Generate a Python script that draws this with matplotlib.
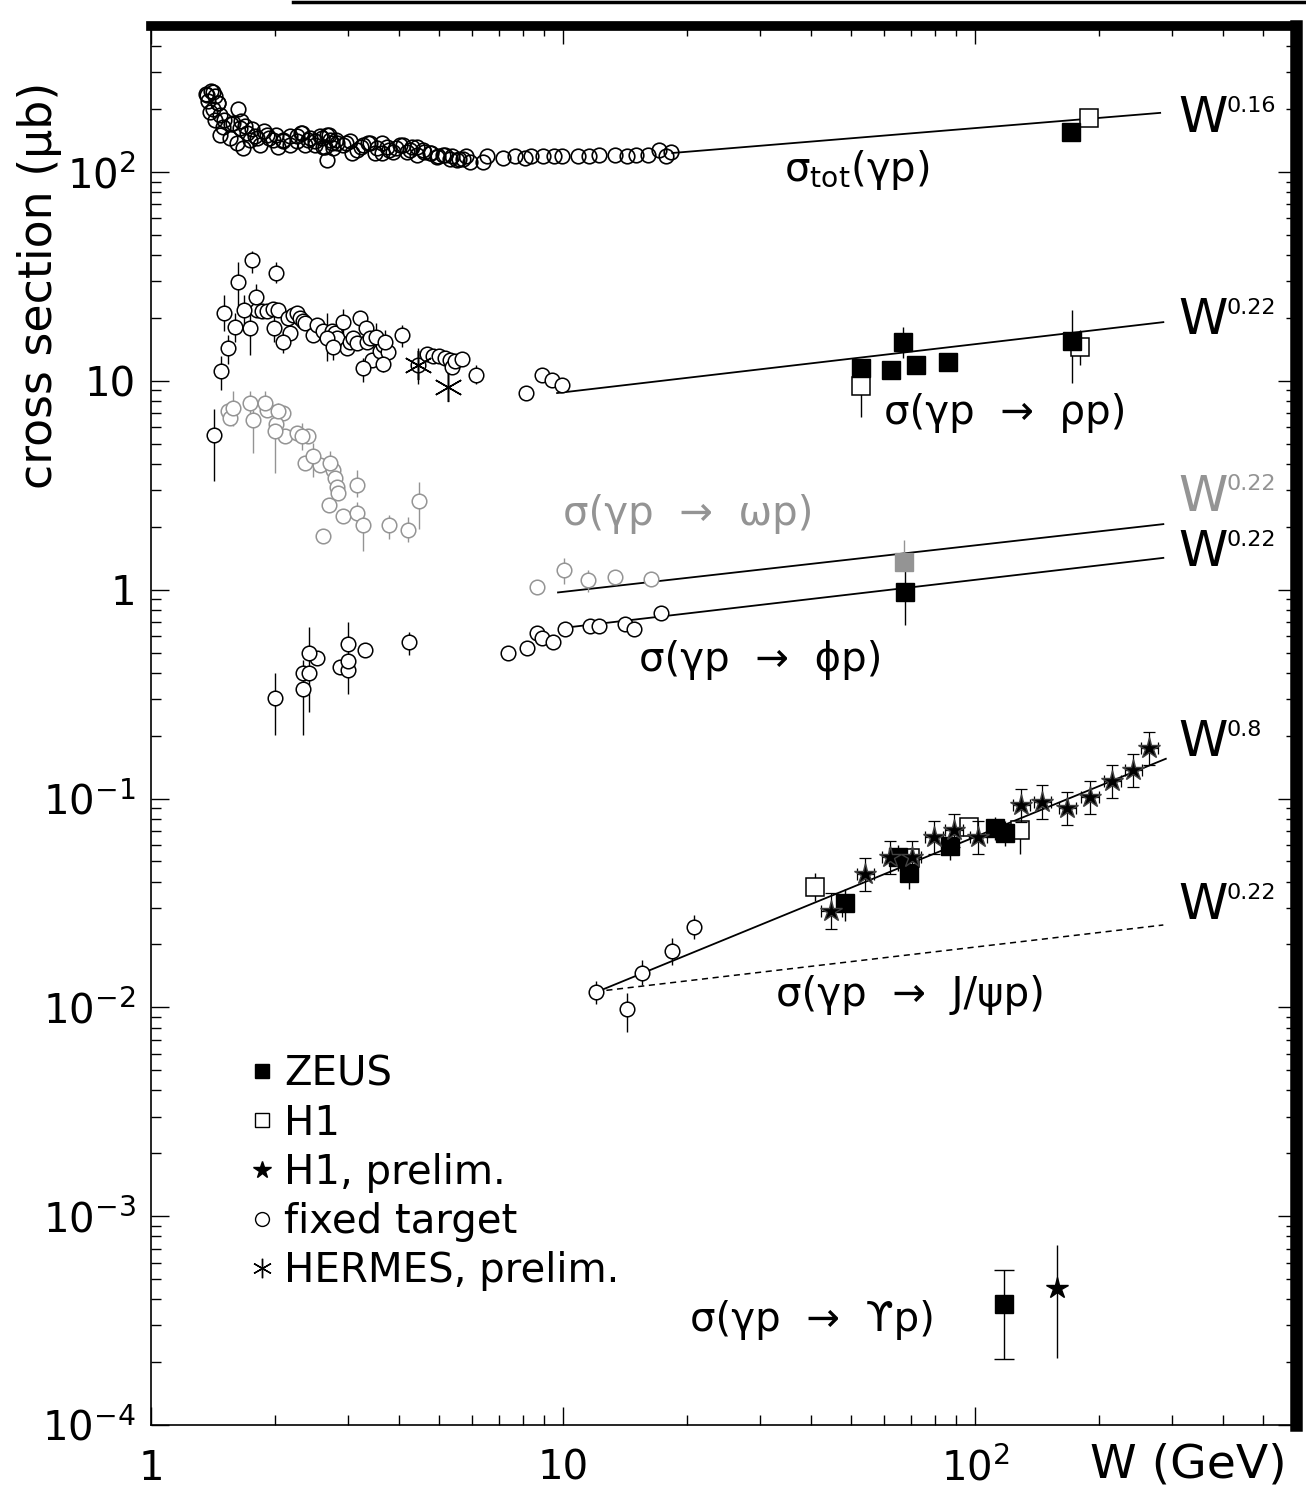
import matplotlib
matplotlib.use("Agg")
import matplotlib.pyplot as plt
from matplotlib.lines import Line2D

plt.rcParams['font.family'] = ['DejaVu Sans']
plt.rcParams['mathtext.default'] = 'regular'

GRAY = '0.58'

# ---- total cross section, fixed target (W in GeV, sigma in mub)
tot_w = [1.360, 1.398, 1.430, 1.375, 1.454, 1.414, 1.470, 1.504, 1.626, 1.564, 1.654, 1.691,
         1.758, 1.788, 1.880, 1.934, 2.011, 2.091, 2.175, 2.262, 2.312, 2.405, 2.501, 2.600,
         2.645, 2.704, 2.750, 2.674, 2.812, 2.973, 3.075, 3.234, 3.363, 3.498, 3.637, 3.782,
         3.933, 4.090, 4.252, 4.422, 4.599, 4.782, 4.973, 5.171, 5.378, 5.592, 5.816, 6.540,
         7.151, 7.646, 8.087, 8.362, 8.942, 9.510, 9.945, 10.87, 11.56, 12.23, 13.37, 14.30,
         15.04, 16.08, 17.10, 17.78, 18.29,
         1.365, 1.417, 1.457, 1.391, 1.430, 1.498, 1.471, 1.555, 1.584, 1.644, 1.707, 1.614,
         1.675, 1.739, 1.805, 1.839, 1.909, 1.981, 2.038, 2.096, 2.175, 2.258, 2.322, 2.365,
         2.432, 2.501, 2.572, 2.620, 2.670, 2.720, 2.771, 2.822, 2.930, 3.041, 3.157, 3.276,
         3.401, 3.530, 3.631, 3.733, 3.875, 4.022, 4.174, 4.292, 4.414, 4.581, 4.756, 4.935,
         5.123, 5.317, 5.519, 5.729, 5.947, 6.406]
tot_s = [235, 244, 231, 219, 215, 200, 188, 178, 200, 169, 175, 166,
         160, 148, 157, 146, 151, 143, 148, 140, 154, 143, 135, 146,
         132, 151, 138, 114, 143, 138, 123, 132, 138, 123, 138, 128,
         130, 135, 128, 132, 125, 123, 119, 121, 119, 116, 119.5, 119,
         117, 119, 117, 119.5, 119, 119, 119.5, 119, 119, 120, 120, 119,
         120, 120, 128, 119, 124,
         234, 242, 213, 194, 177, 165, 150, 145, 171, 162, 153, 137,
         130, 142, 145, 135, 150, 142, 132, 140, 135, 148, 153, 135,
         145, 140, 148, 132, 150, 142, 130, 137, 135, 140, 127, 135,
         137, 130, 123, 132, 125, 135, 125, 132, 121, 127, 123, 118,
         121, 116, 114, 116, 112, 112]
zeus_tot_w = [170.5]
zeus_tot_s = [155.5]
h1_tot_w = [188.3]
h1_tot_s = [181.0]
tot_fit_w = [18.4, 281.0]
tot_fit_s = [123.3, 191.9]

# ---- rho
rho_w = [1.81, 1.857, 1.909, 1.974, 2.03, 2.147, 2.175, 2.215, 2.258, 2.300, 2.343, 2.365,
         2.477, 2.524, 2.620, 2.746, 2.797, 2.823, 2.985, 3.041, 3.097, 3.17, 3.216, 3.326,
         3.338, 3.401, 3.43, 3.595, 3.664, 3.767, 4.455, 4.67, 4.84, 5.01, 5.17, 5.32, 5.37,
         5.47, 5.68, 8.12, 8.88, 9.39, 9.96]
rho_s = [21.9, 21.7, 21.7, 22.2, 21.9, 19.9, 16.9, 20.7, 21.1, 20.0, 19.3, 18.9,
         16.5, 18.6, 17.3, 17.3, 16.9, 16.0, 14.3, 15.4, 16.0, 15.1, 19.9, 17.9,
         15.4, 16.1, 12.6, 13.9, 14.9, 13.7, 11.9, 13.4, 13.2, 13.1, 12.9, 12.6, 11.7,
         12.4, 12.7, 8.78, 10.7, 10.1, 9.53]
rho_bw = [1.422, 1.476, 1.506, 1.535, 1.599, 1.629, 1.682, 1.739, 1.762, 1.796, 1.988,
          2.011, 2.088, 2.670, 2.761, 2.920, 3.265, 3.516, 3.651, 3.698, 4.074, 6.15]
rho_bs = [5.5, 11.1, 21.1, 14.3, 18.2, 29.8, 21.9, 17.9, 37.8, 25.2, 18.0,
          33.0, 15.4, 16.1, 14.6, 19.1, 11.5, 16.3, 12.0, 15.4, 16.6, 10.7]
rho_blo = [3.31, 9.06, 17.3, 12.1, 15.4, 21.5, 18.6, 13.3, 33.0, 22.3, 15.4,
           29.5, 13.6, 12.4, 12.6, 16.6, 9.89, 14.6, 11.0, 13.8, 14.6, 9.7]
rho_bhi = [7.35, 13.1, 25.9, 16.6, 21.1, 36.9, 25.9, 22.0, 42.0, 29.0, 21.5,
           36.9, 17.3, 21.1, 16.6, 22.0, 12.8, 18.9, 13.3, 17.6, 18.6, 11.9]
zeus_rho_w = [52.9, 62.5, 66.9, 71.9, 86.0, 171.9]
zeus_rho_s = [11.5, 11.3, 15.3, 11.9, 12.3, 15.5]
zeus_rho_lo = [11.5, 11.3, 12.9, 11.9, 12.3, 9.76]
zeus_rho_hi = [11.5, 11.3, 18.1, 11.9, 12.3, 21.8]
h1_rho_w = [52.9, 179.8]
h1_rho_s = [9.44, 14.5]
h1_rho_lo = [6.7, 11.9]
h1_rho_hi = [11.5, 17.5]
hermes_w = [4.455, 5.25]
hermes_s = [11.9, 9.35]
hermes_lo = [9.7, 9.35]
hermes_hi = [14.3, 9.35]
rho_fit_w = [9.67, 286.0]
rho_fit_s = [8.74, 19.1]

# ---- omega (grey)
om_w = [1.54, 1.555, 1.909, 2.088, 2.016, 2.114, 2.258, 2.409, 2.365, 2.572, 2.77, 2.80,
        2.823, 2.85, 2.708, 2.92, 2.62, 8.64, 13.37, 16.33]
om_s = [7.16, 6.65, 7.29, 7.02, 6.18, 5.42, 5.63, 5.42, 4.04, 3.97, 3.74, 3.41,
        3.11, 2.89, 2.53, 2.25, 1.81, 1.03, 1.155, 1.13]
om_bw = [1.584, 1.739, 1.771, 1.891, 2.037, 2.0, 2.322, 2.477, 2.72, 3.158, 3.17, 3.276,
         3.788, 4.21, 4.48, 10.06, 11.52]
om_bs = [7.43, 7.87, 6.48, 7.87, 7.16, 5.73, 5.42, 4.35, 4.04, 3.17, 2.33, 2.03,
         2.03, 1.94, 2.66, 1.24, 1.11]
om_blo = [6.07, 6.78, 4.51, 6.78, 6.29, 3.6, 4.68, 3.47, 3.47, 2.78, 2.07, 1.54,
          1.75, 1.69, 1.96, 1.07, 0.97]
om_bhi = [8.95, 8.95, 7.29, 8.95, 7.87, 6.41, 6.29, 5.04, 4.59, 3.74, 2.63, 2.27,
          2.27, 2.23, 3.29, 1.42, 1.24]
zeus_om_w = [67.2]
zeus_om_s = [1.36]
zeus_om_lo = [1.36]
zeus_om_hi = [1.73]
om_fit_w = [9.72, 286.0]
om_fit_s = [0.97, 2.06]

# ---- phi
phi_w = [2.335, 2.414, 2.533, 2.875, 3.0, 3.0, 3.307, 7.37, 8.19, 8.66, 8.88, 9.47,
         10.11, 11.63, 12.25, 14.14, 14.87, 17.27]
phi_s = [0.399, 0.399, 0.473, 0.424, 0.411, 0.548, 0.514, 0.495, 0.523, 0.622, 0.585, 0.563,
         0.646, 0.670, 0.670, 0.685, 0.646, 0.772]
phi_bw = [2.0, 2.335, 2.414, 3.0, 4.236]
phi_bs = [0.303, 0.333, 0.495, 0.456, 0.560]
phi_blo = [0.201, 0.201, 0.260, 0.318, 0.486]
phi_bhi = [0.399, 0.460, 0.664, 0.702, 0.629]
zeus_phi_w = [67.6]
zeus_phi_s = [0.974]
zeus_phi_lo = [0.676]
zeus_phi_hi = [1.24]
phi_fit_w = [9.94, 286.0]
phi_fit_s = [0.655, 1.42]

# ---- J/psi
jpsi_w = [12.0, 14.3, 15.5, 18.4, 20.8]
jpsi_s = [0.0118, 0.0098, 0.0146, 0.0186, 0.0242]
jpsi_lo = [0.0104, 0.0076, 0.0128, 0.0160, 0.0212]
jpsi_hi = [0.0134, 0.0117, 0.0168, 0.0214, 0.0276]
zeus_jpsi_w = [48.3, 65.0, 69.0, 86.9, 111.9, 118.0]
zeus_jpsi_s = [0.0316, 0.0524, 0.0440, 0.0592, 0.0721, 0.0682]
zeus_jpsi_lo = [0.0260, 0.0450, 0.0370, 0.0510, 0.0630, 0.0590]
zeus_jpsi_hi = [0.0370, 0.0600, 0.0520, 0.0680, 0.0820, 0.0780]
h1_jpsi_w = [40.9, 69.5, 96.7, 128.6]
h1_jpsi_s = [0.0377, 0.0519, 0.0729, 0.0706]
h1_jpsi_lo = [0.0322, 0.0460, 0.0640, 0.0540]
h1_jpsi_hi = [0.0442, 0.0580, 0.0800, 0.0770]
h1p_jpsi_w = [44.7, 54.1, 62.2, 70.3, 79.5, 88.9, 101.7, 129.4, 145.5, 167.2, 190.1,
              215.1, 241.8, 264.4]
h1p_jpsi_s = [0.0288, 0.0434, 0.0524, 0.0524, 0.0653, 0.0706, 0.0653, 0.0929, 0.0962,
              0.0900, 0.1016, 0.121, 0.1368, 0.174]
h1p_jpsi_dy = [0.22, 0.2, 0.2, 0.2, 0.2, 0.2, 0.2, 0.2, 0.2, 0.2, 0.2, 0.2, 0.2, 0.2]
h1p_jpsi_dw = [0.06, 0.05, 0.05, 0.05, 0.05, 0.05, 0.05, 0.05, 0.05, 0.05, 0.05, 0.05,
               0.05, 0.05]
jpsi_fit_w = [12.0, 290.0]
jpsi_fit_s = [0.0118, 0.155]
jpsi_soft_w = [12.0, 286.0]
jpsi_soft_s = [0.0119, 0.0248]

# ---- Upsilon
zeus_ups_w = [117.5]
zeus_ups_s = [3.79e-4]
zeus_ups_lo = [2.07e-4]
zeus_ups_hi = [5.51e-4]
h1p_ups_w = [158.0]
h1p_ups_s = [4.52e-4]
h1p_ups_lo = [2.09e-4]
h1p_ups_hi = [7.26e-4]

# ---- labels
slope_labels = ['0.16', '0.22', '0.22', '0.22', '0.8', '0.22']
slope_colors = ['k', 'k', GRAY, 'k', 'k', 'k']
slope_y = [181, 19.5, 2.78, 1.51, 0.186, 0.0308]
slope_x = 311

proc_text = ['σ$_{tot}$(γp)', 'σ(γp  →  ρp)', 'σ(γp  →  ωp)', 'σ(γp  →  ϕp)',
             'σ(γp  →  J/ψp)', 'σ(γp  →  ϒp)']
proc_x = [51.7, 118.2, 20.1, 30.1, 69.5, 40.2]
proc_y = [102, 7.01, 2.30, 0.46, 0.01144, 3.18e-4]
proc_colors = ['k', 'k', GRAY, 'k', 'k', 'k']


def bars(ax, w, lo, hi, color='k', z=2):
    ax.vlines(w, lo, hi, colors=color, linewidth=1.0, zorder=z)


fig = plt.figure(figsize=(13.06, 15.04), dpi=100)
ax = fig.add_axes([0.1156, 0.0525, 0.8767, 0.9302])
ax.set_xscale('log')
ax.set_yscale('log')
ax.set_xlim(1, 600)
ax.set_ylim(1e-4, 500)

# fit lines
for fw, fs in [(tot_fit_w, tot_fit_s), (rho_fit_w, rho_fit_s), (om_fit_w, om_fit_s),
               (phi_fit_w, phi_fit_s), (jpsi_fit_w, jpsi_fit_s)]:
    ax.plot(fw, fs, color='k', lw=1.3, zorder=1)
ax.plot(jpsi_soft_w, jpsi_soft_s, color='k', lw=1.1, ls=(0, (4, 3)), zorder=1)

circ = dict(ls='none', marker='o', ms=10.5, mfc='white', mew=1.1, zorder=3)

# fixed target
ax.plot(tot_w, tot_s, ls='none', marker='o', ms=10.5, mfc='none', mec='k', mew=1.2, zorder=3)
bars(ax, rho_bw, rho_blo, rho_bhi)
ax.plot(rho_w + rho_bw, rho_s + rho_bs, mec='k', **circ)
bars(ax, om_bw, om_blo, om_bhi, color=GRAY)
ax.plot(om_w + om_bw, om_s + om_bs, mec=GRAY, **circ)
bars(ax, phi_bw, phi_blo, phi_bhi)
ax.plot(phi_w + phi_bw, phi_s + phi_bs, mec='k', **circ)
bars(ax, jpsi_w, jpsi_lo, jpsi_hi)
ax.plot(jpsi_w, jpsi_s, mec='k', **circ)

# HERMES
bars(ax, hermes_w, hermes_lo, hermes_hi)
ax.plot(hermes_w, hermes_s, ls='none', marker=(6, 2, 0), ms=21, mec='k', mew=1.1, zorder=4)

# H1 open squares
sq_open = dict(ls='none', marker='s', ms=13, mfc='white', mec='k', mew=1.1, zorder=4)
sq_full = dict(ls='none', marker='s', ms=13, mfc='k', mec='k', zorder=5)
bars(ax, h1_rho_w, h1_rho_lo, h1_rho_hi)
bars(ax, h1_jpsi_w, h1_jpsi_lo, h1_jpsi_hi)
ax.plot(h1_tot_w, h1_tot_s, **sq_open)
ax.plot(h1_rho_w, h1_rho_s, **sq_open)
ax.plot(h1_jpsi_w, h1_jpsi_s, **sq_open)

# ZEUS filled squares
bars(ax, zeus_rho_w, zeus_rho_lo, zeus_rho_hi)
bars(ax, zeus_phi_w, zeus_phi_lo, zeus_phi_hi)
bars(ax, zeus_om_w, zeus_om_lo, zeus_om_hi, color=GRAY)
bars(ax, zeus_jpsi_w, zeus_jpsi_lo, zeus_jpsi_hi)
ax.plot(zeus_tot_w, zeus_tot_s, **sq_full)
ax.plot(zeus_rho_w, zeus_rho_s, **sq_full)
ax.plot(zeus_phi_w, zeus_phi_s, **sq_full)
ax.plot(zeus_om_w, zeus_om_s, ls='none', marker='s', ms=13, mfc=GRAY, mec=GRAY, zorder=5)
ax.plot(zeus_jpsi_w, zeus_jpsi_s, **sq_full)
ax.errorbar(zeus_ups_w, zeus_ups_s,
            yerr=[[s - lo for s, lo in zip(zeus_ups_s, zeus_ups_lo)],
                  [hi - s for s, hi in zip(zeus_ups_s, zeus_ups_hi)]],
            fmt='s', ms=13, color='k', elinewidth=1.0, capsize=7, capthick=1.0, zorder=5)

# H1 preliminary stars
y_lo = [s * d / (1 + d) for s, d in zip(h1p_jpsi_s, h1p_jpsi_dy)]
y_hi = [s * d for s, d in zip(h1p_jpsi_s, h1p_jpsi_dy)]
w_lo = [w * d / (1 + d) for w, d in zip(h1p_jpsi_w, h1p_jpsi_dw)]
w_hi = [w * d for w, d in zip(h1p_jpsi_w, h1p_jpsi_dw)]
ax.errorbar(h1p_jpsi_w, h1p_jpsi_s, xerr=[w_lo, w_hi], yerr=[y_lo, y_hi],
            fmt='*', ms=16, color='k', mec='0.25', elinewidth=0.9, capsize=4,
            capthick=0.9, zorder=6)
ax.errorbar(h1p_ups_w, h1p_ups_s,
            yerr=[[s - lo for s, lo in zip(h1p_ups_s, h1p_ups_lo)],
                  [hi - s for s, hi in zip(h1p_ups_s, h1p_ups_hi)]],
            fmt='*', ms=16, color='k', elinewidth=1.0, zorder=6)

# slope labels
for lab, col, yy in zip(slope_labels, slope_colors, slope_y):
    ax.text(slope_x, yy, 'W', fontsize=36, color=col, ha='left', va='center')
    ax.annotate(lab, xy=(slope_x, yy), xytext=(35, 9), textcoords='offset points',
                fontsize=16, color=col, ha='left', va='center')

for txt, xx, yy, col in zip(proc_text, proc_x, proc_y, proc_colors):
    ax.text(xx, yy, txt, fontsize=29, color=col, ha='center', va='center')

# axes styling
ax.tick_params(which='both', direction='in', top=True, right=True, width=1.0)
ax.tick_params(which='major', length=13, labelsize=29)
ax.tick_params(which='minor', length=7)
ax.tick_params(axis='x', which='major', pad=17)
ax.tick_params(axis='y', which='major', pad=11)
ax.set_xticks([1, 10, 100])
ax.set_xticklabels(['1', '10', '$10^{2}$'])
ax.set_yticks([1e-4, 1e-3, 1e-2, 1e-1, 1, 10, 100])
ax.set_yticklabels(['$10^{-4}$', '$10^{-3}$', '$10^{-2}$', '$10^{-1}$', '1', '10', '$10^{2}$'])
ax.spines['left'].set_linewidth(1.2)
ax.spines['bottom'].set_linewidth(1.2)
ax.spines['top'].set_linewidth(7)
ax.spines['right'].set_linewidth(9)

fig.text(40 / 1306, 1 - 285 / 1504, 'cross section (μb)', rotation=90, fontsize=33,
         ha='center', va='center')
fig.text(1188 / 1306, 1 - 1465 / 1504, 'W (GeV)', fontsize=34, ha='center', va='center')

handles = [
    Line2D([], [], ls='none', marker='s', ms=10, mfc='k', mec='k'),
    Line2D([], [], ls='none', marker='s', ms=10, mfc='white', mec='k', mew=1.0),
    Line2D([], [], ls='none', marker='*', ms=13, mfc='k', mec='k'),
    Line2D([], [], ls='none', marker='o', ms=10, mfc='white', mec='k', mew=1.0),
    Line2D([], [], ls='none', marker=(6, 2, 0), ms=14, mec='k', mew=1.0),
]
labels = ['ZEUS', 'H1', 'H1, prelim.', 'fixed target', 'HERMES, prelim.']
ax.legend(handles, labels, loc='upper left', bbox_to_anchor=(0.083, 0.265),
          frameon=False, fontsize=29, handlelength=0.8, handletextpad=0.15,
          labelspacing=0.23, borderpad=0, borderaxespad=0)

fig.add_artist(Line2D([0.224, 1.0], [0.9985, 0.9985], color='k', lw=2.5))

fig.savefig('out.png', dpi=100)
